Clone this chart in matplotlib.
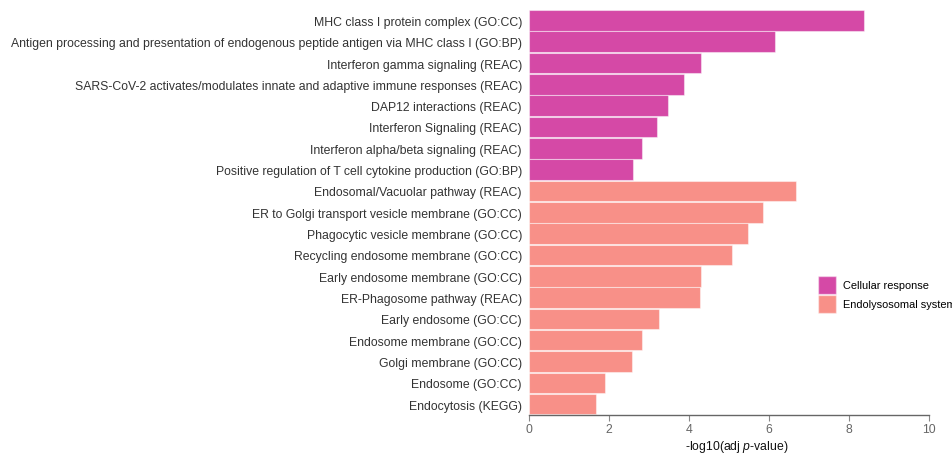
import matplotlib
matplotlib.use("Agg")
import matplotlib.pyplot as plt
from matplotlib.patches import Patch

plt.rcParams['font.family'] = ['Liberation Sans', 'DejaVu Sans']
plt.rcParams['mathtext.fontset'] = 'custom'
plt.rcParams['mathtext.it'] = 'Liberation Sans:italic'
plt.rcParams['mathtext.rm'] = 'Liberation Sans'

terms = [
    "MHC class I protein complex (GO:CC)",
    "Antigen processing and presentation of endogenous peptide antigen via MHC class I (GO:BP)",
    "Interferon gamma signaling (REAC)",
    "SARS-CoV-2 activates/modulates innate and adaptive immune responses (REAC)",
    "DAP12 interactions (REAC)",
    "Interferon Signaling (REAC)",
    "Interferon alpha/beta signaling (REAC)",
    "Positive regulation of T cell cytokine production (GO:BP)",
    "Endosomal/Vacuolar pathway (REAC)",
    "ER to Golgi transport vesicle membrane (GO:CC)",
    "Phagocytic vesicle membrane (GO:CC)",
    "Recycling endosome membrane (GO:CC)",
    "Early endosome membrane (GO:CC)",
    "ER-Phagosome pathway (REAC)",
    "Early endosome (GO:CC)",
    "Endosome membrane (GO:CC)",
    "Golgi membrane (GO:CC)",
    "Endosome (GO:CC)",
    "Endocytosis (KEGG)",
]
values = [8.37, 6.14, 4.30, 3.87, 3.47, 3.21, 2.82, 2.60,
          6.67, 5.86, 5.47, 5.08, 4.30, 4.28, 3.24, 2.82, 2.58, 1.90, 1.68]
groups = ["Cellular response"] * 8 + ["Endolysosomal system"] * 11
group_names = ["Cellular response", "Endolysosomal system"]
group_colors = {"Cellular response": "#D549A6", "Endolysosomal system": "#F89088"}
x_ticks = [0, 2, 4, 6, 8, 10]

fig = plt.figure(figsize=(9.53, 4.56), dpi=100)
ax = fig.add_axes([0.555, 0.088, 0.42, 0.8885])

ypos = list(range(len(terms)))
colors = [group_colors[g] for g in groups]
ax.barh(ypos, values, height=0.96, color=colors,
        edgecolor=(1, 1, 1, 0.45), linewidth=0.8)
ax.set_ylim(len(terms) - 0.5, -0.5)
ax.set_xlim(0, 10)
ax.set_yticks(ypos)
ax.set_yticklabels(terms, fontsize=8.8, color="#333333")
ax.tick_params(axis='y', length=0, pad=5)
ax.set_xticks(x_ticks)
ax.set_xticklabels([str(t) for t in x_ticks], fontsize=8.8, color="#666666")
ax.tick_params(axis='x', length=4, width=0.8, color="#888888", pad=2)
for s in ["top", "right", "left"]:
    ax.spines[s].set_visible(False)
ax.spines["bottom"].set_color("#666666")
ax.spines["bottom"].set_linewidth(1.0)
ax.set_xlabel(r"-log10(adj $\mathit{p}$-value)", fontsize=8.8, color="#111111")
ax.xaxis.set_label_coords(0.52, -0.056)

handles = [Patch(facecolor=group_colors[g], edgecolor=(1, 1, 1, 0.45), label=g) for g in group_names]
leg = fig.legend(handles=handles, loc="upper left", bbox_to_anchor=(0.8583, 0.3925),
                 frameon=False, fontsize=7.9, handlelength=1.65, handleheight=2.1,
                 handletextpad=0.6, labelspacing=0.12, borderaxespad=0, borderpad=0)

fig.savefig("out.png", dpi=100)
